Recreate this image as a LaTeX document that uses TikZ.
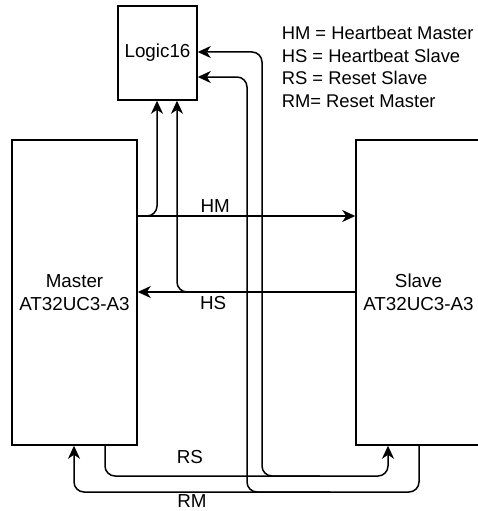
\documentclass[tikz,border=0pt]{standalone}
\usepackage{fontspec}
\setmainfont{Liberation Sans}
\usetikzlibrary{arrows.meta}
\begin{document}
\begin{tikzpicture}[x=1pt,y=-1pt,line width=1.5pt,
  box/.style={draw,rectangle,inner sep=0pt,font=\fontsize{18.8}{23.5}\selectfont,align=center},
  conn/.style={-{Stealth[length=13pt,width=12pt,inset=4pt]},rounded corners=10pt},
  lbl/.style={font=\fontsize{18.8}{22}\selectfont,inner sep=0pt}]
\useasboundingbox (0,0) rectangle (477,511);
\node[box,minimum width=79pt,minimum height=94pt] (logic) at (157.5,53) {Logic16};
\node[box,minimum width=125pt,minimum height=305pt] (master) at (74.5,292.5) {Master\\AT32UC3-A3};
\node[box,minimum width=125pt,minimum height=305pt] (slave) at (418.5,292.5) {Slave\\AT32UC3-A3};
\node[lbl,anchor=west,align=left,font=\fontsize{18.4}{22.7}\selectfont] (legend) at (281,67)
  {HM = Heartbeat Master\\HS = Heartbeat Slave\\RS = Reset Slave\\RM= Reset Master};
\coordinate (rsj) at (320,476);
\coordinate (rmj) at (330,492);
% HM
\draw[conn] (master.east |- 0,216) -- node[lbl,pos=0.356,above=2.5pt]{HM} (slave.west |- 0,216);
\draw[conn] (master.east |- 0,216) -- (157,216) -- (logic.south -| 157,0);
% HS
\draw[conn] (slave.west |- 0,292) -- node[lbl,pos=0.653,below=4pt]{HS} (master.east |- 0,292);
\draw[conn] (slave.west |- 0,292) -- (177,292) -- (logic.south -| 177,0);
% RS
\draw[conn] (master.south -| 105,0) -- (105,476) -- node[lbl,pos=0.3,above=12pt]{RS} (388,476) -- (slave.south -| 388,0);
\draw[conn] (rsj) -- (262,476) -- (262,52) -- (logic.east |- 0,52);
% RM
\draw[conn] (slave.south -| 419,0) -- (419,492) -- node[lbl,pos=0.658,below=2pt]{RM} (74,492) -- (master.south -| 74,0);
\draw[conn] (rmj) -- (247,492) -- (247,77) -- (logic.east |- 0,77);
\end{tikzpicture}
\end{document}
